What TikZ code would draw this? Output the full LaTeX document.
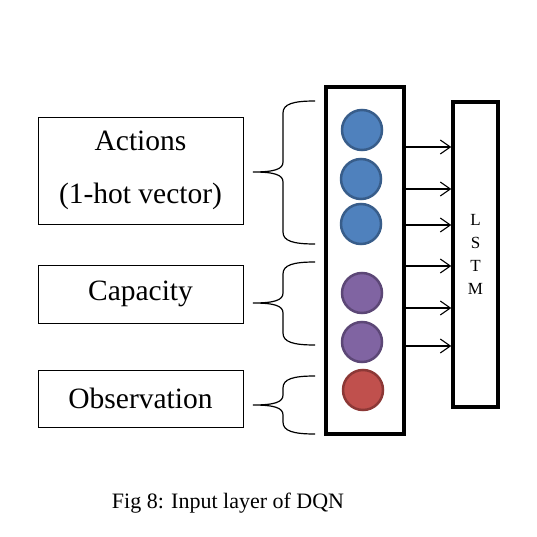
\documentclass[tikz,border=0pt]{standalone}
\usepackage{fontspec}
\setmainfont{Liberation Serif}
\usetikzlibrary{arrows.meta}
\definecolor{cblue}{HTML}{4F81BD}
\definecolor{cblueline}{HTML}{385D8A}
\definecolor{cpurple}{HTML}{8064A2}
\definecolor{cpurpleline}{HTML}{5C4776}
\definecolor{cred}{HTML}{C0504D}
\definecolor{credline}{HTML}{8C3836}
\tikzset{
  inbox/.style={draw, line width=0.9pt, minimum width=205pt, inner sep=0pt, align=center, font=\fontsize{29.5}{53}\selectfont},
  unit/.style={circle, line width=2.5pt, minimum size=40pt, inner sep=0pt},
  thickbox/.style={draw, line width=3.5pt, inner sep=0pt},
  arr/.style={-{Straight Barb[length=10pt,width=14pt]}, line width=1.1pt},
}
\begin{document}
\begin{tikzpicture}[x=1pt,y=-1pt]
                \useasboundingbox (0,0) rectangle (537,537);
                \node[inbox, minimum height=107pt] (act) at (140.5,170.5) {Actions\\(1-hot vector)};
                \node[inbox, minimum height=58pt] (cap) at (140.5,294) {Capacity};
                \node[inbox, minimum height=57pt] (obs) at (140.5,398.5) {Observation};

                \node[thickbox, minimum width=78pt, minimum height=347pt] (col) at (365,260.5) {};
                \node[thickbox, minimum width=45pt, minimum height=305pt, align=center, font=\fontsize{17}{23}\selectfont] (lstm) at (475.5,254.5) {L\\S\\T\\M};

                \node[unit, fill=cblue, draw=cblueline] (u1) at (362,130) {};
                \node[unit, fill=cblue, draw=cblueline] (u2) at (361,179) {};
                \node[unit, fill=cblue, draw=cblueline] (u3) at (361,224) {};
                \node[unit, fill=cpurple, draw=cpurpleline] (u4) at (362,293) {};
                \node[unit, fill=cpurple, draw=cpurpleline] (u5) at (362,342) {};
                \node[unit, fill=cred, draw=credline] (u6) at (363,390) {};

                % braces
                \foreach \t/\m/\b in {101/172/244, 262/303/345, 376/405/434}
                  \draw[line width=1.2pt] (315,\t) .. controls (293,\t) and (283,\t+3) .. (283,\t+12) -- (283,\m-10) .. controls (283,\m-3) and (275,\m) .. (253,\m) .. controls (275,\m) and (283,\m+3) .. (283,\m+10) -- (283,\b-12) .. controls (283,\b-3) and (293,\b) .. (315,\b);

                \foreach \y [count=\i] in {147,189,225,266,308,346}
                  \coordinate (o\i) at (col.east |- 0,\y);
                \foreach \i in {1,...,6}
                  \draw[arr] (o\i) to (lstm.west |- o\i);

                \node[font=\fontsize{22}{26}\selectfont] (cap8) at (228,503) {Fig 8: Input layer of DQN};
            \end{tikzpicture}
\end{document}
